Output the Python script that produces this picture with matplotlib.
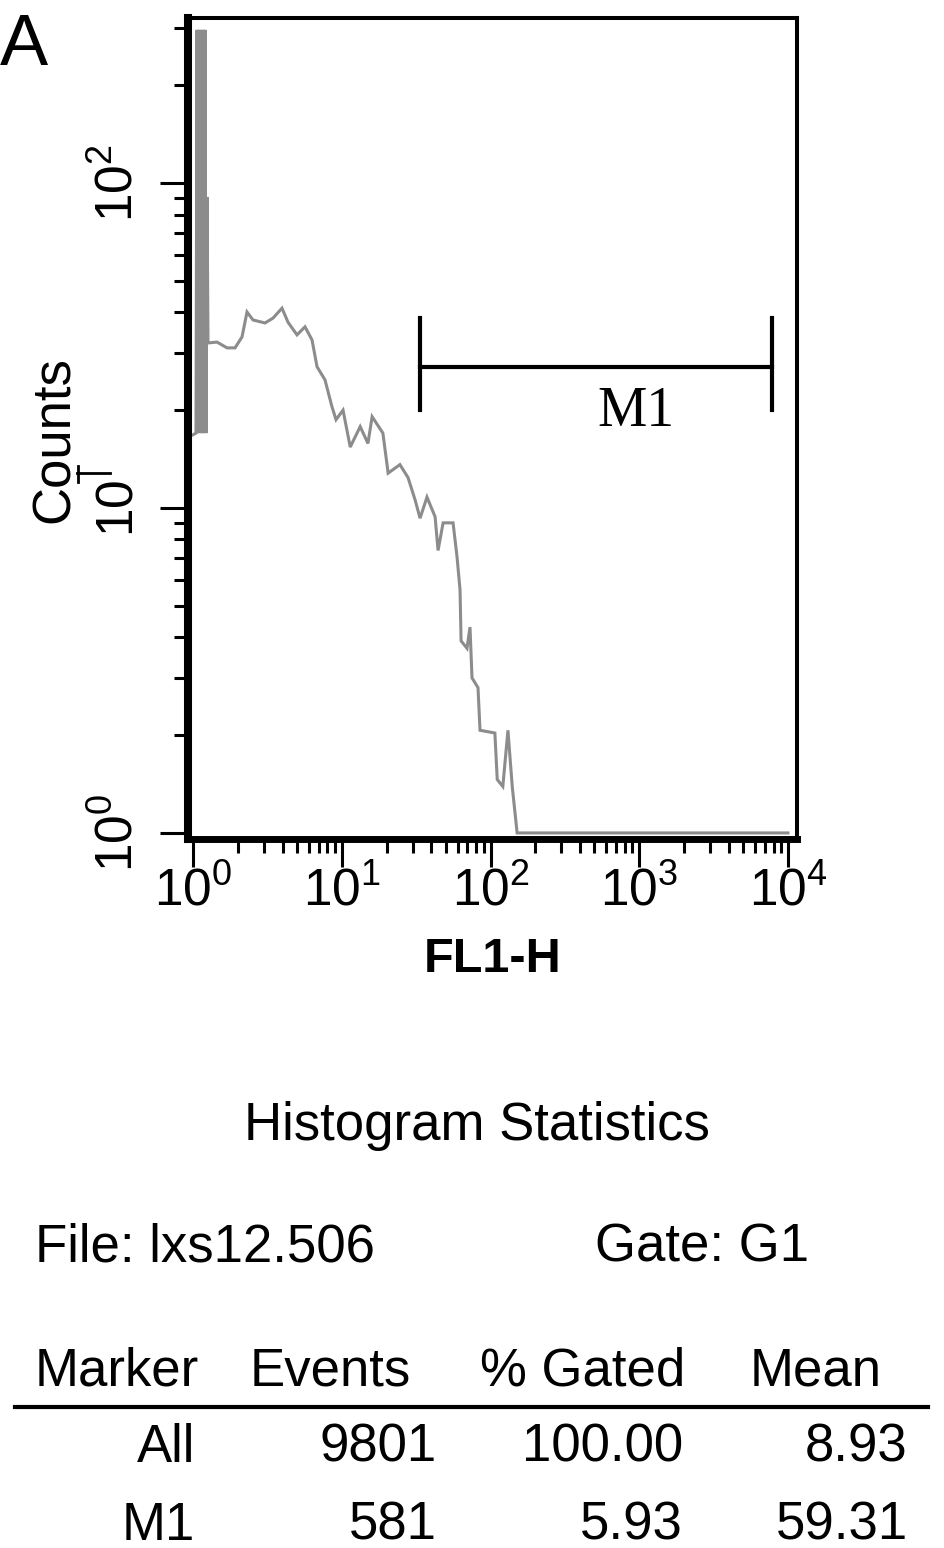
import matplotlib
matplotlib.use('Agg')
import matplotlib.pyplot as plt
from matplotlib import font_manager
from matplotlib.lines import Line2D
from matplotlib.ticker import FixedLocator, FixedFormatter, NullFormatter

# histogram trace (FL1-H value, counts)
fl1 = [1.00, 1.047, 1.064, 1.080, 1.097, 1.114, 1.132, 1.150, 1.168, 1.186,
       1.204, 1.223, 1.242, 1.261, 1.449,
       1.692, 1.916, 2.135, 2.306, 2.530, 3.048, 3.450, 3.964, 4.35, 5.00,
       5.66, 6.31, 6.82, 7.71, 8.59, 9.15, 10.2, 11.4, 13.3, 15.0,
       16.0, 18.9, 20.5, 24.6, 27.9, 31.1, 33.6, 37.4, 42.4, 44.4,
       48.0, 56.0, 59.5, 62.4, 63.4, 69.5, 72.8, 75.1, 82.4, 85.0,
       107, 111, 121, 131, 140, 151, 10000]
counts = [16.8, 17, 296, 17, 296, 17, 296, 17, 296, 17,
          296, 17, 90.6, 32.2, 32.4,
          31.1, 31.1, 33.6, 40.1, 37.9, 37.1, 38.4, 41.2, 37.3, 34.1,
          36.1, 32.9, 27.2, 24.8, 20.5, 18.7, 20.0, 15.4, 17.8, 15.8,
          19.1, 17.0, 12.8, 13.6, 12.4, 10.6, 9.3, 10.8, 9.4, 7.4,
          9.0, 9.0, 7.1, 5.6, 3.9, 3.7, 4.3, 3.0, 2.8, 2.07,
          2.03, 1.46, 1.39, 2.07, 1.39, 1.0, 1.0]

# marker M1
m1_range = [33.6, 7800]
m1_level = 27.2
m1_bar = [20.0, 38.4]

x_major = [1, 10, 100, 1000, 10000]
x_labels = ['$10^0$', '$10^1$', '$10^2$', '$10^3$', '$10^4$']
y_major = [1, 10, 100]
y_labels = ['$10^0$', '$10$', '$10^2$']

# statistics table
stat_title = "Histogram Statistics"
file_name = "File: lxs12.506"
gate_name = "Gate: G1"
headers = ["Marker", "Events", "% Gated", "Mean"]
markers = ["All", "M1"]
events = ["9801", "581"]
gated = ["100.00", "5.93"]
means = ["8.93", "59.31"]

installed = {f.name for f in font_manager.fontManager.ttflist}
tick_font = 'Liberation Sans Narrow' if 'Liberation Sans Narrow' in installed else 'Liberation Sans'
plt.rcParams['font.family'] = ['Liberation Sans', 'DejaVu Sans']
plt.rcParams['mathtext.fontset'] = 'custom'
plt.rcParams['mathtext.rm'] = tick_font
plt.rcParams['mathtext.it'] = tick_font
plt.rcParams['mathtext.bf'] = tick_font

W, H = 945, 1548
fig = plt.figure(figsize=(W / 100, H / 100), dpi=100)
ax = fig.add_axes([188 / W, 1 - 839 / H, (797 - 188) / W, (839 - 18) / H])
ax.set_xscale('log')
ax.set_yscale('log')
ax.set_xlim(0.925, 11500)
ax.set_ylim(0.958, 322)

ax.plot(fl1, counts, color='#8c8c8c', lw=2.2, solid_joinstyle='miter')

# M1 gate marker
ax.plot(m1_range, [m1_level, m1_level], color='black', lw=3)
for xv in m1_range:
    ax.plot([xv, xv], m1_bar, color='black', lw=3)
ax.text(950, 19.7, "M1", fontsize=40, family='Liberation Serif',
        ha='center', va='center')

for side, lw in [('left', 5.8), ('bottom', 5.0), ('top', 2.9), ('right', 2.9)]:
    ax.spines[side].set_linewidth(lw)

ax.xaxis.set_major_locator(FixedLocator(x_major))
ax.xaxis.set_major_formatter(FixedFormatter(x_labels))
ax.xaxis.set_minor_locator(FixedLocator([m * 10 ** d for d in range(4) for m in range(2, 10)]))
ax.xaxis.set_minor_formatter(NullFormatter())
ax.yaxis.set_major_locator(FixedLocator(y_major))
ax.yaxis.set_major_formatter(FixedFormatter(y_labels))
ax.yaxis.set_minor_locator(FixedLocator([m * 10 ** d for d in range(2) for m in range(2, 10)] + [200, 300]))
ax.yaxis.set_minor_formatter(NullFormatter())

ax.tick_params(which='major', direction='out', length=20, width=2.2, labelsize=37)
ax.tick_params(which='minor', direction='out', length=10, width=2.2)
ax.tick_params(axis='x', which='major', pad=0)
ax.tick_params(axis='y', which='major', pad=12)
for lab in ax.get_yticklabels():
    lab.set_rotation(90)
    lab.set_va('center')

ax.set_xlabel("FL1-H", fontsize=35, fontweight='bold', labelpad=14)
ax.set_ylabel("Counts", fontsize=38)
ax.yaxis.set_label_coords((55 - 188) / 609, (839 - 440) / 821)
ax.yaxis.label.set_va('center')

# stray tick mark next to the Counts label
fig.add_artist(Line2D([77 / W, 110 / W], [1 - 473 / H, 1 - 473 / H], color='black', lw=2))
fig.add_artist(Line2D([78 / W, 78 / W], [1 - 466 / H, 1 - 482 / H], color='black', lw=2))

fig.text(0 / W, 1 - 65 / H, "A", fontsize=52, ha='left', va='baseline')

# statistics block
fs = 38
fig.text(477 / W, 1 - 1140 / H, stat_title, fontsize=fs, ha='center', va='baseline')
fig.text(35 / W, 1 - 1262 / H, file_name, fontsize=fs, ha='left', va='baseline')
fig.text(595 / W, 1 - 1262 / H, gate_name, fontsize=fs, ha='left', va='baseline')
for hx, h in zip([35, 250, 480, 750], headers):
    fig.text(hx / W, 1 - 1385 / H, h, fontsize=fs, ha='left', va='baseline')
fig.add_artist(Line2D([15 / W, 928 / W], [1 - 1407 / H, 1 - 1407 / H], color='black', lw=3))
for row, yb in enumerate([1462, 1540]):
    cells = [markers[row], events[row], gated[row], means[row]]
    for cx, c in zip([195, 437, 683, 908], cells):
        fig.text(cx / W, 1 - yb / H, c, fontsize=fs, ha='right', va='baseline')

fig.savefig("out.png", dpi=100)
